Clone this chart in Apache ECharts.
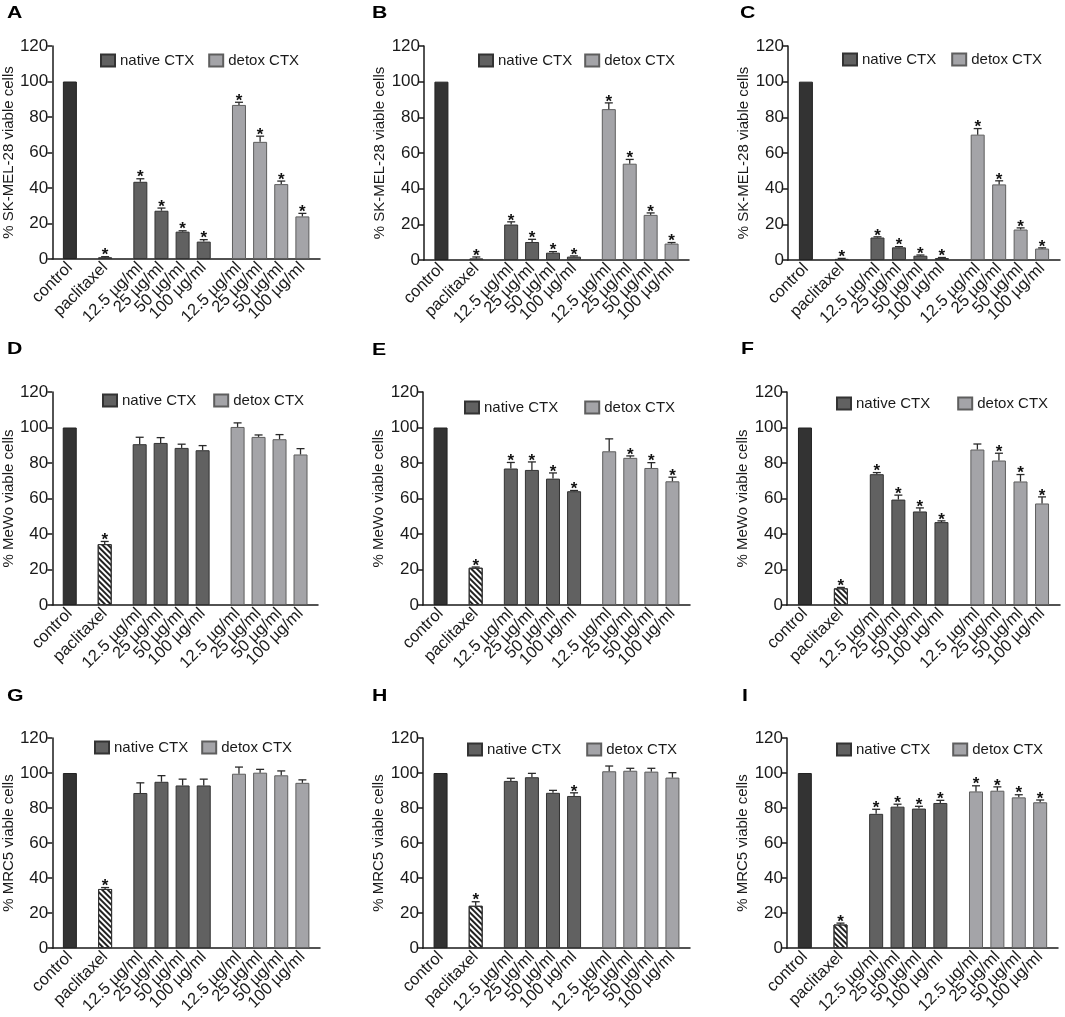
<!DOCTYPE html>
<html><head><meta charset="utf-8">
<script src="https://cdn.jsdelivr.net/npm/echarts@6/dist/echarts.min.js"></script>
<style>html,body{margin:0;padding:0;background:#fff}#c{width:1065px;height:1017px}</style>
</head><body><div id="c"></div>
<script>
// ---------- data ----------
const categories = ['control', 'paclitaxel',
  '12.5 µg/ml', '25 µg/ml', '50 µg/ml', '100 µg/ml',
  '12.5 µg/ml', '25 µg/ml', '50 µg/ml', '100 µg/ml'];
const groups = ['control', 'paclitaxel',
  'native CTX', 'native CTX', 'native CTX', 'native CTX',
  'detox CTX', 'detox CTX', 'detox CTX', 'detox CTX'];
const yTicks = [0, 20, 40, 60, 80, 100, 120];
const panelLetters = ['A', 'B', 'C', 'D', 'E', 'F', 'G', 'H', 'I'];
const yTitles = ['% SK-MEL-28 viable cells', '% SK-MEL-28 viable cells', '% SK-MEL-28 viable cells',
  '% MeWo viable cells', '% MeWo viable cells', '% MeWo viable cells',
  '% MRC5 viable cells', '% MRC5 viable cells', '% MRC5 viable cells'];

const meanA = [100, 0.9, 43.5, 27.2, 15.4, 9.8, 86.8, 66.0, 42.2, 24.0];
const errA  = [0, 0.4, 1.7, 1.5, 0.5, 1.1, 1.5, 3.2, 1.7, 1.7];
const sigA  = [0, 1, 1, 1, 1, 1, 1, 1, 1, 1];
const meanB = [100, 0.8, 19.9, 10.1, 4.1, 1.9, 84.6, 54.0, 25.3, 9.2];
const errB  = [0, 0.9, 1.5, 1.5, 0.6, 0.4, 3.5, 2.4, 1.1, 0.6];
const sigB  = [0, 1, 1, 1, 1, 1, 1, 1, 1, 1];
const meanC = [100, 0.6, 12.6, 7.1, 2.4, 1.1, 70.3, 42.4, 17.1, 6.4];
const errC  = [0, 0.3, 0.4, 0.4, 0.4, 0.3, 3.4, 2.0, 0.9, 0.4];
const sigC  = [0, 1, 1, 1, 1, 1, 1, 1, 1, 1];
const meanD = [100, 34.3, 90.6, 91.3, 88.5, 87.2, 100.3, 94.7, 93.4, 84.8];
const errD  = [0, 1.5, 3.9, 3.0, 2.1, 2.6, 2.3, 1.1, 2.6, 3.3];
const sigD  = [0, 1, 0, 0, 0, 0, 0, 0, 0, 0];
const meanE = [100, 21.0, 76.9, 76.1, 71.2, 64.1, 86.6, 82.9, 77.2, 69.7];
const errE  = [0, 0.4, 3.4, 4.5, 3.2, 0.4, 7.0, 1.1, 3.0, 2.3];
const sigE  = [0, 1, 1, 1, 1, 1, 0, 1, 1, 1];
const meanF = [100, 9.4, 73.7, 59.4, 52.7, 46.7, 87.6, 81.4, 69.6, 57.2];
const errF  = [0, 0.5, 0.9, 2.5, 2.0, 0.7, 3.1, 4.1, 3.9, 3.7];
const sigF  = [0, 1, 1, 1, 1, 1, 0, 1, 1, 1];
const meanG = [100, 33.8, 88.6, 95.0, 92.9, 92.9, 99.6, 100.2, 98.7, 94.4];
const errG  = [0, 0.8, 5.8, 3.5, 3.6, 3.6, 3.8, 1.9, 2.5, 1.7];
const sigG  = [0, 1, 0, 0, 0, 0, 0, 0, 0, 0];
const meanH = [100, 24.2, 95.5, 97.6, 88.7, 86.9, 101.0, 101.3, 100.8, 97.4];
const errH  = [0, 2.3, 1.5, 2.2, 1.4, 1.8, 3.0, 1.4, 1.9, 2.8];
const sigH  = [0, 1, 0, 0, 0, 1, 0, 0, 0, 0];
const meanI = [100, 13.5, 76.7, 80.8, 79.7, 82.9, 89.5, 89.9, 86.1, 83.3];
const errI  = [0, 0.8, 2.6, 1.4, 1.3, 1.5, 3.2, 2.2, 1.5, 1.3];
const sigI  = [0, 1, 1, 1, 1, 1, 1, 1, 1, 1];

const means = [meanA, meanB, meanC, meanD, meanE, meanF, meanG, meanH, meanI];
const errs  = [errA, errB, errC, errD, errE, errF, errG, errH, errI];
const sigs  = [sigA, sigB, sigC, sigD, sigE, sigF, sigG, sigH, sigI];

// ---------- layout ----------
// category slots: groups separated by empty slots
const SLOT = [2, 7, 12, 15, 18, 21, 26, 29, 32, 35];
const NSLOT = 38;
const gridBoxes = [
  [52, 46, 268, 213], [424, 46, 265, 214], [788, 46, 272, 214],
  [52, 392, 266, 213], [423, 392, 267, 213], [787, 392, 273, 213],
  [52, 738, 268, 212], [423, 738, 267, 212], [787, 738, 271, 212]
];
const legendPos = [
  [100, 61, 14], [478, 61, 12], [842, 60, 15],
  [102, 401, 17], [464, 408, 26], [836, 404, 27],
  [94, 748, 13], [467, 750, 25], [836, 750, 22]
];
const letterPos = [
  [7, 7], [372, 7], [740, 7],
  [7, 343], [372, 344], [741, 343],
  [7, 690], [372, 690], [742, 690]
];

const FONT = 'Liberation Sans, Arial, sans-serif';
const TXT = '#1a1a1a';
const slotLabels = new Array(NSLOT).fill('');
const isReal = new Array(NSLOT).fill(false);
const labelSet = new Array(NSLOT).fill(-1); // which label axis (0/1) shows this slot
SLOT.forEach((s, k) => { slotLabels[s] = categories[k]; isReal[s] = true; labelSet[s] = k % 2; });

const styles = {
  'control': { color: '#333333', borderColor: '#222222', borderWidth: 1 },
  'paclitaxel': { color: '#ffffff', borderColor: '#333333', borderWidth: 1,
    decal: { symbol: 'rect', symbolSize: 1, color: '#222222', dashArrayX: [1, 0], dashArrayY: [1.2, 2], rotation: Math.PI / 4 } },
  'native CTX': { color: '#616161', borderColor: '#333333', borderWidth: 1 },
  'detox CTX': { color: '#a4a4a8', borderColor: '#5e5e5e', borderWidth: 1 }
};

const grid = [], xAxis = [], yAxis = [], series = [], legend = [], graphic = [];
const xLabelStyle = { rotate: 45, margin: 6, fontSize: 16.5, color: TXT, fontFamily: FONT, hideOverlap: false };

for (let p = 0; p < 9; p++) {
  const [gl, gt, gw, gh] = gridBoxes[p];
  grid.push({ left: gl, top: gt, width: gw, height: gh });
  // main x axis (line, ticks, labels of even items)
  xAxis.push({
    gridIndex: p, type: 'category', data: slotLabels, boundaryGap: true, position: 'bottom',
    axisLine: { lineStyle: { color: TXT, width: 1.5 } },
    axisTick: { alignWithLabel: true, length: 5, interval: (i) => isReal[i], lineStyle: { color: TXT, width: 1.5 } },
    axisLabel: Object.assign({ interval: (i) => labelSet[i] === 0 }, xLabelStyle)
  });
  // companion x axis carrying the labels of odd items (same scale, same place)
  xAxis.push({
    gridIndex: p, type: 'category', data: slotLabels, boundaryGap: true, position: 'bottom', offset: 0,
    axisLine: { show: false }, axisTick: { show: false },
    axisLabel: Object.assign({ interval: (i) => labelSet[i] === 1 }, xLabelStyle)
  });
  yAxis.push({
    gridIndex: p, type: 'value', min: yTicks[0], max: yTicks[yTicks.length - 1], interval: yTicks[1] - yTicks[0],
    axisLine: { show: true, lineStyle: { color: TXT, width: 1.5 } },
    axisTick: { show: true, length: 5, lineStyle: { color: TXT, width: 1.5 } },
    splitLine: { show: false },
    axisLabel: { fontSize: 17, color: TXT, margin: 4, fontFamily: FONT },
    name: yTitles[p], nameLocation: 'middle', nameGap: 25, nameRotate: 90,
    nameTextStyle: { fontSize: 15, color: TXT, fontFamily: FONT }
  });

  const xi = 2 * p;
  ['control', 'paclitaxel', 'native CTX', 'detox CTX'].forEach(g => {
    const d = new Array(NSLOT).fill('-');
    groups.forEach((gg, k) => { if (gg === g) d[SLOT[k]] = means[p][k]; });
    series.push({
      type: 'bar', name: g, xAxisIndex: xi, yAxisIndex: p, data: d,
      barWidth: 14, barGap: '-100%', itemStyle: styles[g], silent: true, animation: false
    });
  });

  const ed = means[p].map((m, k) => [SLOT[k], m, errs[p][k], sigs[p][k]]);
  series.push({
    type: 'custom', name: 'err' + p, xAxisIndex: xi, yAxisIndex: p, data: ed, silent: true, animation: false,
    encode: { x: 0, y: 1 }, z: 5,
    renderItem: (params, api) => {
      const x = api.value(0), v = api.value(1), e = api.value(2), s = api.value(3);
      const b = api.coord([x, v]);
      const t = api.coord([x, v + e]);
      const ch = [];
      if (e > 0) {
        ch.push({ type: 'line', shape: { x1: b[0], y1: b[1], x2: t[0], y2: t[1] }, style: { stroke: '#2a2a2a', lineWidth: 1.3 } });
        ch.push({ type: 'line', shape: { x1: t[0] - 4, y1: t[1], x2: t[0] + 4, y2: t[1] }, style: { stroke: '#2a2a2a', lineWidth: 1.3 } });
      }
      if (s) {
        ch.push({ type: 'text', style: { text: '*', x: t[0], y: t[1] - 1, align: 'center', textAlign: 'center',
          verticalAlign: 'middle', textVerticalAlign: 'middle', font: 'bold 17px ' + FONT, fill: '#111' } });
      }
      return { type: 'group', children: ch };
    }
  });

  const [ll, lc, lg] = legendPos[p];
  legend.push({
    data: ['native CTX', 'detox CTX'], left: ll, top: lc - 8, itemWidth: 14, itemHeight: 12, itemGap: lg,
    icon: 'rect', selectedMode: false, padding: 0,
    textStyle: { fontSize: 15, color: TXT, fontFamily: FONT, padding: [0, 0, 0, 0] }
  });

  graphic.push({
    type: 'text', left: letterPos[p][0], top: letterPos[p][1] - 2, scaleX: 1.25,
    style: { text: panelLetters[p], font: 'bold 17px ' + FONT, fill: '#000' }
  });
}

const chart = echarts.init(document.getElementById('c'), null, { renderer: 'canvas' });
chart.setOption({ animation: false, backgroundColor: '#fff', grid, xAxis, yAxis, series, legend, graphic });
</script></body></html>
